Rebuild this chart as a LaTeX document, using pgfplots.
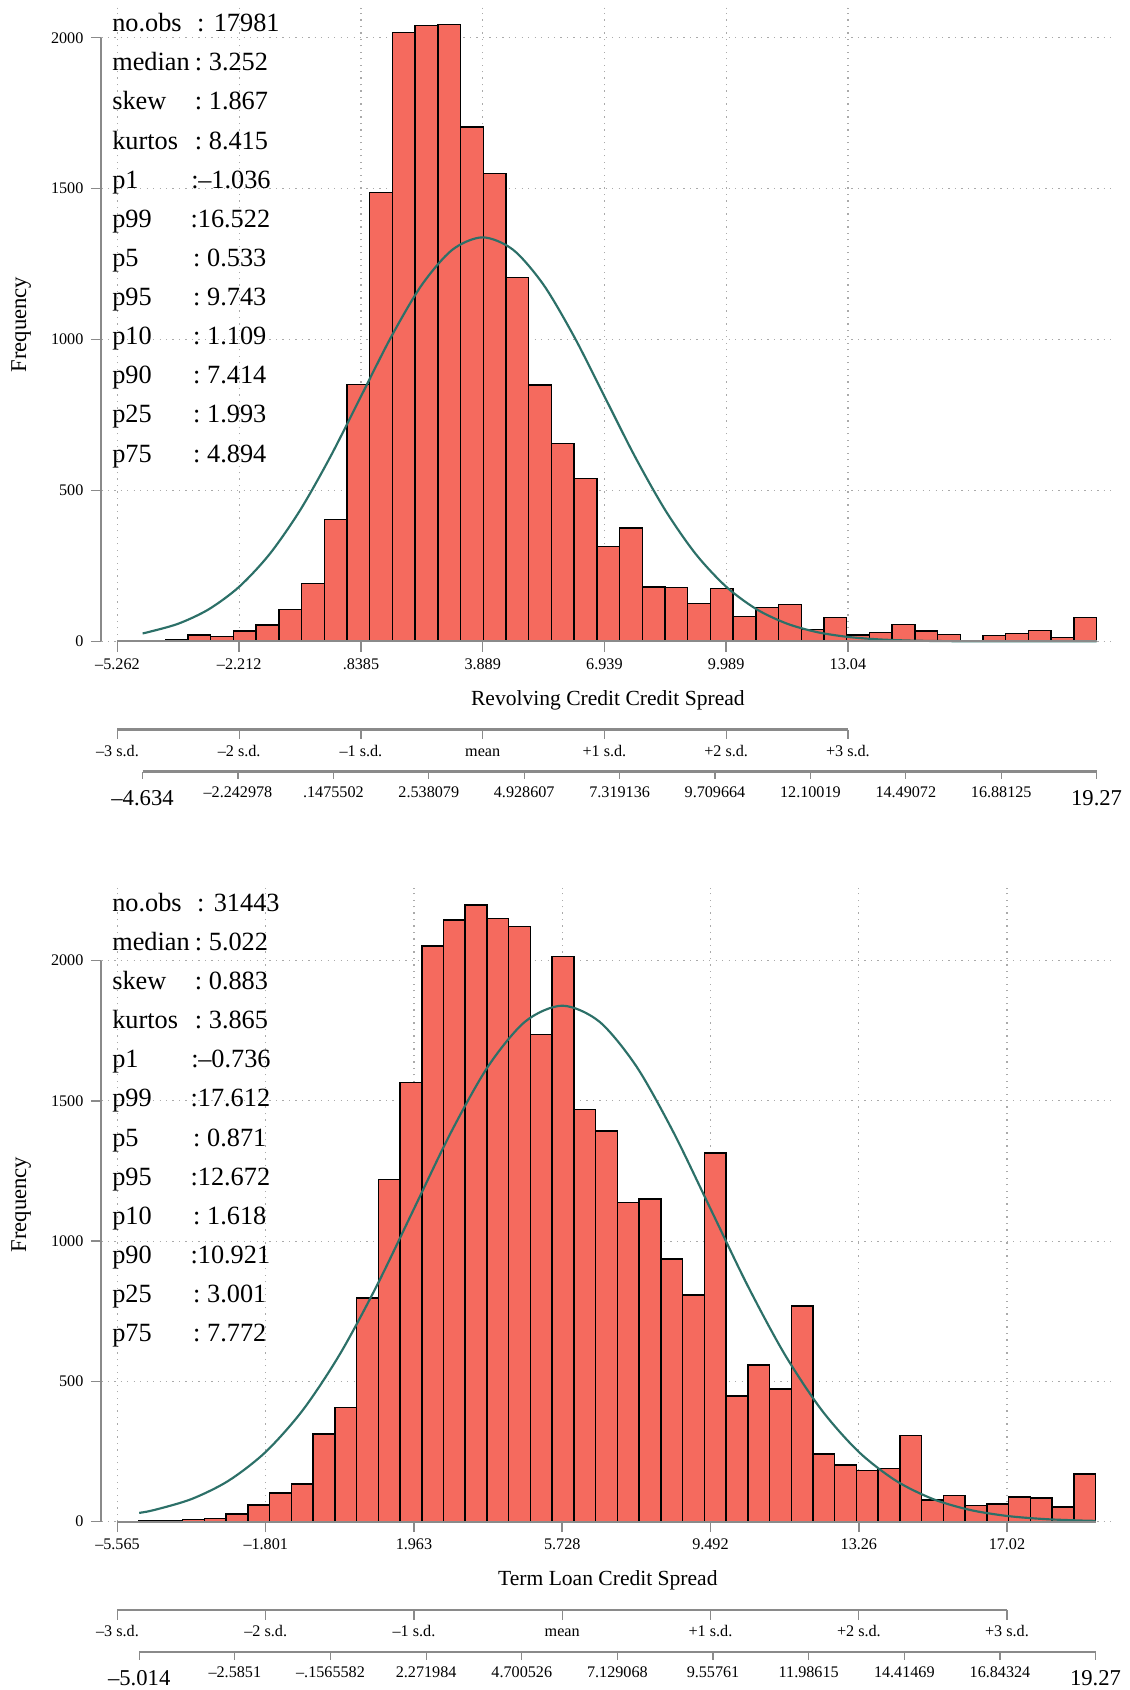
\documentclass[border=0pt]{standalone}
\usepackage{pgfplots}
\pgfplotsset{compat=1.18}
\usepackage{fontspec}
\setmainfont{Liberation Serif}

\definecolor{barfill}{RGB}{245,106,94}
\definecolor{normcurve}{RGB}{44,112,104}
\definecolor{axisgray}{RGB}{138,138,138}
\definecolor{gridgray}{RGB}{170,170,170}

\newcommand{\tickfont}{\fontsize{7.5}{9}\selectfont}
\newcommand{\statfont}{\fontsize{12.2}{14}\selectfont}
\newcommand{\titlefont}{\fontsize{10}{12}\selectfont}
\newcommand{\labelfont}{\fontsize{10.5}{12}\selectfont}
\newcommand{\rangefont}{\fontsize{10.5}{12}\selectfont}

% one line of the summary block: baseline depth, name, colon position, value
\newcommand{\statline}[4]{%
  \node[anchor=base west, inner sep=0pt, font=\statfont] at (51.9pt,-#1pt) {#2};
  \node[anchor=base west, inner sep=0pt, font=\statfont] at (#3pt,-#1pt) {#4};}
\newcommand{\pos}[1]{:\hspace{3.1pt}#1}

\tikzset{
  axisrule/.style={axisgray, line width=1.25pt},
  scaletick/.style={axisgray, line width=0.55pt},
}

\pgfplotsset{
  histpanel/.style={
    scale only axis, width=470pt, height=294.05pt,
    ymin=0, clip=false,
    axis line style={draw=none},
    tick align=outside, xtick pos=left, ytick pos=left,
    major tick length=4.8pt,
    tick style={draw=axisgray, line width=0.7pt},
    grid=major,
    major grid style={draw=gridgray, line width=0.55pt, dash pattern=on 0.6pt off 2.4pt},
    ytick={0,500,1000,1500,2000},
    yticklabels={0,500,1000,1500,2000},
    ticklabel style={font=\tickfont},
    xticklabel style={anchor=base, yshift=-8.2pt},
    yticklabel style={anchor=east},
  },
  bars/.style={ybar interval, fill=barfill, draw=black, line width=0.7pt},
  normal/.style={normcurve, line width=1pt, smooth},
}

\begin{document}
\begin{tikzpicture}
\useasboundingbox (0,0) rectangle (524pt,-784pt);

%================ Revolving credit =================
\begin{axis}[histpanel, at={(47pt,-297.55pt)}, anchor=south west,
  xmin=-5.667, xmax=19.718, ymax=2100,
  xtick={-5.262,-2.212,0.8385,3.889,6.939,9.989,13.04},
  xticklabels={–5.262,–2.212,.8385,3.889,6.939,9.989,13.04}]
\addplot[bars] table {
x y
-4.634 2
-4.0649 7
-3.4957 21
-2.9266 17
-2.3574 34
-1.7883 54
-1.2191 106
-0.6500 192
-0.0809 404
0.4883 851
1.0574 1487
1.6266 2017
2.1957 2041
2.7649 2044
3.3340 1704
3.9031 1550
4.4723 1205
5.0414 849
5.6106 656
6.1797 539
6.7489 314
7.3180 375
7.8871 181
8.4563 178
9.0254 126
9.5946 176
10.1637 83
10.7329 113
11.3020 123
11.8711 39
12.4403 80
13.0094 22
13.5786 30
14.1477 56
14.7169 35
15.2860 23
15.8551 1
16.4243 20
16.9934 27
17.5626 36
18.1317 13
18.7009 80
19.2700 0
};
\addplot[normal] coordinates {
(-4.634,27.0) (-4.4985,30.5) (-3.736,58.8) (-2.9735,106.5) (-2.211,181.2)
(-1.4485,289.5) (-0.686,434.6) (0.0765,612.9) (0.839,811.9) (1.6015,1010.4)
(2.364,1181.3) (3.1265,1297.4) (3.889,1338.6) (4.6515,1297.4) (5.414,1181.3)
(6.1765,1010.4) (6.939,811.9) (7.7015,612.9) (8.464,434.6) (9.2265,289.5)
(9.989,181.2) (10.7515,106.5) (11.514,58.8) (12.2765,30.5) (13.039,14.9)
(13.8015,6.8) (14.564,2.9) (15.3265,1.2) (16.089,0.45) (17.614,0.05) (19.27,0.0)
};
% axis lines
\draw[axisgray, line width=0.9pt] (axis cs:-5.262,0) -- (axis cs:19.27,0);
\draw[axisgray, line width=1pt] (axis cs:-5.667,0) -- (axis cs:-5.667,2000);
% titles
\node[anchor=base, font=\titlefont] at ([yshift=-29.6pt]rel axis cs:0.5,0) {Revolving Credit Credit Spread};
\node[rotate=90, font=\labelfont] at ([xshift=-37.15pt]rel axis cs:0,0.5) {Frequency};
% standard-deviation scale
\draw[axisrule] ([yshift=-41pt]axis cs:-5.262,0) -- ([yshift=-41pt]axis cs:13.04,0);
\pgfplotsinvokeforeach{-5.262,-2.212,0.8385,3.889,6.939,9.989,13.04}{
  \draw[scaletick] ([yshift=-41pt]axis cs:#1,0) -- ([yshift=-45.5pt]axis cs:#1,0);}
\node[anchor=base, font=\tickfont] at ([yshift=-53.3pt]axis cs:-5.262,0) {–3 s.d.};
\node[anchor=base, font=\tickfont] at ([yshift=-53.3pt]axis cs:-2.212,0) {–2 s.d.};
\node[anchor=base, font=\tickfont] at ([yshift=-53.3pt]axis cs:0.8385,0) {–1 s.d.};
\node[anchor=base, font=\tickfont] at ([yshift=-53.3pt]axis cs:3.889,0) {mean};
\node[anchor=base, font=\tickfont] at ([yshift=-53.3pt]axis cs:6.939,0) {+1 s.d.};
\node[anchor=base, font=\tickfont] at ([yshift=-53.3pt]axis cs:9.989,0) {+2 s.d.};
\node[anchor=base, font=\tickfont] at ([yshift=-53.3pt]axis cs:13.04,0) {+3 s.d.};
% min-to-max scale
\draw[axisrule] ([yshift=-60.5pt]axis cs:-4.634,0) -- ([yshift=-60.5pt]axis cs:19.27,0);
\pgfplotsinvokeforeach{-4.634,-2.242978,0.1475502,2.538079,4.928607,7.319136,9.709664,12.10019,14.49072,16.88125,19.27}{
  \draw[scaletick] ([yshift=-60.5pt]axis cs:#1,0) -- ([yshift=-64pt]axis cs:#1,0);}
\node[anchor=base, font=\rangefont] at ([yshift=-76pt]axis cs:-4.634,0) {–4.634};
\node[anchor=base, font=\tickfont] at ([yshift=-72.5pt]axis cs:-2.242978,0) {–2.242978};
\node[anchor=base, font=\tickfont] at ([yshift=-72.5pt]axis cs:0.1475502,0) {.1475502};
\node[anchor=base, font=\tickfont] at ([yshift=-72.5pt]axis cs:2.538079,0) {2.538079};
\node[anchor=base, font=\tickfont] at ([yshift=-72.5pt]axis cs:4.928607,0) {4.928607};
\node[anchor=base, font=\tickfont] at ([yshift=-72.5pt]axis cs:7.319136,0) {7.319136};
\node[anchor=base, font=\tickfont] at ([yshift=-72.5pt]axis cs:9.709664,0) {9.709664};
\node[anchor=base, font=\tickfont] at ([yshift=-72.5pt]axis cs:12.10019,0) {12.10019};
\node[anchor=base, font=\tickfont] at ([yshift=-72.5pt]axis cs:14.49072,0) {14.49072};
\node[anchor=base, font=\tickfont] at ([yshift=-72.5pt]axis cs:16.88125,0) {16.88125};
\node[anchor=base, font=\rangefont] at ([yshift=-76pt]axis cs:19.27,0) {19.27};
\end{axis}

%================ Term loan =================
\begin{axis}[histpanel, at={(47pt,-705.9pt)}, anchor=south west,
  height=294.1pt,
  xmin=-5.976, xmax=19.750, ymax=2260,
  xtick={-5.565,-1.801,1.963,5.728,9.492,13.26,17.02},
  xticklabels={–5.565,–1.801,1.963,5.728,9.492,13.26,17.02}]
\addplot[bars] table {
x y
-5.014 2
-4.4621 5
-3.9102 7
-3.3583 11
-2.8064 27
-2.2545 59
-1.7025 102
-1.1506 135
-0.5987 312
-0.0468 407
0.5051 797
1.0570 1220
1.6089 1565
2.1608 2052
2.7127 2145
3.2646 2198
3.8165 2151
4.3685 2122
4.9204 1736
5.4723 2014
6.0242 1470
6.5761 1393
7.1280 1137
7.6799 1151
8.2318 936
8.7837 808
9.3356 1315
9.8876 448
10.4395 558
10.9914 473
11.5433 768
12.0952 241
12.6471 202
13.1990 182
13.7509 189
14.3028 308
14.8547 78
15.4066 93
15.9586 58
16.5105 63
17.0624 88
17.6143 84
18.1662 53
18.7181 170
19.2700 0
};
\addplot[normal] coordinates {
(-5.014,31.3) (-4.623,41.9) (-3.682,80.8) (-2.741,146.3) (-1.800,248.9)
(-0.859,397.8) (0.082,597.1) (1.023,842.1) (1.964,1115.6) (2.905,1388.4)
(3.846,1623.2) (4.787,1782.7) (5.728,1839.3) (6.669,1782.7) (7.610,1623.2)
(8.551,1388.4) (9.492,1115.6) (10.433,842.1) (11.374,597.1) (12.315,397.8)
(13.256,248.9) (14.197,146.3) (15.138,80.8) (16.079,41.9) (17.020,20.4)
(17.961,9.35) (18.902,4.02) (19.27,2.84)
};
% axis lines
\draw[axisgray, line width=0.9pt] (axis cs:-5.565,0) -- (axis cs:19.27,0);
\draw[axisgray, line width=1pt] (axis cs:-5.976,0) -- (axis cs:-5.976,2000);
% titles
\node[anchor=base, font=\titlefont] at ([yshift=-29.6pt]rel axis cs:0.5,0) {Term Loan Credit Spread};
\node[rotate=90, font=\labelfont] at ([xshift=-37.15pt]rel axis cs:0,0.5) {Frequency};
% standard-deviation scale
\draw[axisrule] ([yshift=-41pt]axis cs:-5.565,0) -- ([yshift=-41pt]axis cs:17.02,0);
\pgfplotsinvokeforeach{-5.565,-1.801,1.963,5.728,9.492,13.26,17.02}{
  \draw[scaletick] ([yshift=-41pt]axis cs:#1,0) -- ([yshift=-45.5pt]axis cs:#1,0);}
\node[anchor=base, font=\tickfont] at ([yshift=-53.5pt]axis cs:-5.565,0) {–3 s.d.};
\node[anchor=base, font=\tickfont] at ([yshift=-53.5pt]axis cs:-1.801,0) {–2 s.d.};
\node[anchor=base, font=\tickfont] at ([yshift=-53.5pt]axis cs:1.963,0) {–1 s.d.};
\node[anchor=base, font=\tickfont] at ([yshift=-53.5pt]axis cs:5.728,0) {mean};
\node[anchor=base, font=\tickfont] at ([yshift=-53.5pt]axis cs:9.492,0) {+1 s.d.};
\node[anchor=base, font=\tickfont] at ([yshift=-53.5pt]axis cs:13.26,0) {+2 s.d.};
\node[anchor=base, font=\tickfont] at ([yshift=-53.5pt]axis cs:17.02,0) {+3 s.d.};
% min-to-max scale
\draw[axisrule] ([yshift=-60.5pt]axis cs:-5.014,0) -- ([yshift=-60.5pt]axis cs:19.27,0);
\pgfplotsinvokeforeach{-5.014,-2.5851,-0.1565582,2.271984,4.700526,7.129068,9.55761,11.98615,14.41469,16.84324,19.27}{
  \draw[scaletick] ([yshift=-60.5pt]axis cs:#1,0) -- ([yshift=-64pt]axis cs:#1,0);}
\node[anchor=base, font=\rangefont] at ([yshift=-76pt]axis cs:-5.014,0) {–5.014};
\node[anchor=base, font=\tickfont] at ([yshift=-72.5pt]axis cs:-2.5851,0) {–2.5851};
\node[anchor=base, font=\tickfont] at ([yshift=-72.5pt]axis cs:-0.1565582,0) {–.1565582};
\node[anchor=base, font=\tickfont] at ([yshift=-72.5pt]axis cs:2.271984,0) {2.271984};
\node[anchor=base, font=\tickfont] at ([yshift=-72.5pt]axis cs:4.700526,0) {4.700526};
\node[anchor=base, font=\tickfont] at ([yshift=-72.5pt]axis cs:7.129068,0) {7.129068};
\node[anchor=base, font=\tickfont] at ([yshift=-72.5pt]axis cs:9.55761,0) {9.55761};
\node[anchor=base, font=\tickfont] at ([yshift=-72.5pt]axis cs:11.98615,0) {11.98615};
\node[anchor=base, font=\tickfont] at ([yshift=-72.5pt]axis cs:14.41469,0) {14.41469};
\node[anchor=base, font=\tickfont] at ([yshift=-72.5pt]axis cs:16.84324,0) {16.84324};
\node[anchor=base, font=\rangefont] at ([yshift=-76pt]axis cs:19.27,0) {19.27};
\end{axis}

% summary statistics, revolving credit
\statline{14.7}{no.obs}{91.3}{:\hspace{4.3pt}17981}
\statline{32.85}{median}{90.2}{\pos{3.252}}
\statline{51.0}{skew}{90.2}{\pos{1.867}}
\statline{69.15}{kurtos}{90.2}{\pos{8.415}}
\statline{87.3}{p1}{88.6}{:\hspace{-0.2pt}–1.036}
\statline{105.45}{p99}{88.2}{:\hspace{0pt}16.522}
\statline{123.6}{p5}{89.4}{\pos{0.533}}
\statline{141.75}{p95}{89.4}{\pos{9.743}}
\statline{159.9}{p10}{89.4}{\pos{1.109}}
\statline{178.05}{p90}{89.4}{\pos{7.414}}
\statline{196.2}{p25}{89.4}{\pos{1.993}}
\statline{214.35}{p75}{89.4}{\pos{4.894}}

% summary statistics, term loans
\statline{422.75}{no.obs}{91.3}{:\hspace{4.3pt}31443}
\statline{440.9}{median}{90.2}{\pos{5.022}}
\statline{459.05}{skew}{90.2}{\pos{0.883}}
\statline{477.2}{kurtos}{90.2}{\pos{3.865}}
\statline{495.35}{p1}{88.6}{:\hspace{-0.2pt}–0.736}
\statline{513.5}{p99}{88.2}{:\hspace{0pt}17.612}
\statline{531.65}{p5}{89.4}{\pos{0.871}}
\statline{549.8}{p95}{88.2}{:\hspace{0pt}12.672}
\statline{567.95}{p10}{89.4}{\pos{1.618}}
\statline{586.1}{p90}{88.2}{:\hspace{0pt}10.921}
\statline{604.25}{p25}{89.4}{\pos{3.001}}
\statline{622.4}{p75}{89.4}{\pos{7.772}}
\end{tikzpicture}
\end{document}
